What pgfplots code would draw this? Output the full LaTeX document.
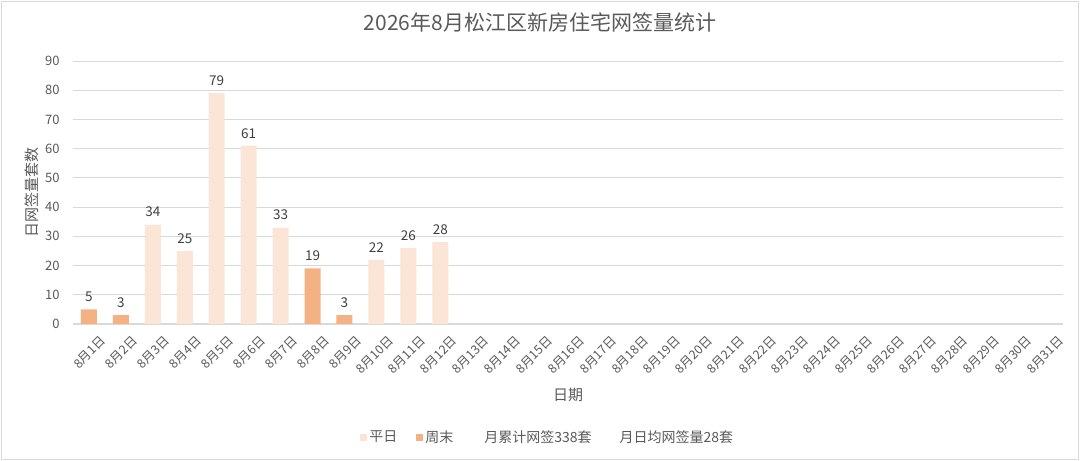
\documentclass[border=0pt]{standalone}
\usepackage{fontspec}
\setmainfont{Noto Sans CJK SC}
\usepackage{pgfplots}
\pgfplotsset{compat=1.18}
\definecolor{weekday}{HTML}{FBE5D6}
\definecolor{weekend}{HTML}{F4B183}
\definecolor{gridc}{HTML}{D9D9D9}
\definecolor{txt}{HTML}{595959}
\definecolor{lbl}{HTML}{404040}
\begin{document}
\begin{tikzpicture}[x=1bp,y=1bp]
\useasboundingbox (0,0) rectangle (1080,461);
\draw[gridc, line width=1.5bp] (1.5,1.5) rectangle (1078.5,459.5);
\begin{axis}[
  at={(73bp,137bp)}, anchor=south west,
  scale only axis, width=990bp, height=263bp,
  xmin=-0.5, xmax=30.5, ymin=0, ymax=90,
  ytick={0,10,...,90},
  xtick={0,...,30},
  xticklabels={8月1日,8月2日,8月3日,8月4日,8月5日,8月6日,8月7日,8月8日,8月9日,8月10日,8月11日,8月12日,8月13日,8月14日,8月15日,8月16日,8月17日,8月18日,8月19日,8月20日,8月21日,8月22日,8月23日,8月24日,8月25日,8月26日,8月27日,8月28日,8月29日,8月30日,8月31日},
  /pgf/number format/assume math mode=true,
  axis x line*=bottom, axis y line*=left,
  x axis line style={gridc, line width=1bp, -},
  y axis line style={draw=none},
  ymajorgrids, grid style={gridc, line width=0.8bp},
  ytick style={draw=none},
  xtick style={draw=none},
  extra x ticks={-0.5,0.5,...,30.5},
  extra x tick labels={},
  extra x tick style={tick align=outside, major tick length=5bp, tick style={gridc, line width=0.8bp}, grid=none},
  ticklabel style={font=\fontsize{13bp}{15bp}\selectfont, text=txt},
  yticklabel style={xshift=-10bp},
  xticklabel style={font=\fontsize{12.5bp}{14bp}\selectfont, rotate=45, anchor=north east, inner sep=0pt, yshift=-12bp, xshift=3bp},
  ylabel={日网签量套数},
  ylabel style={at={(axis description cs:-0.0414,0.5)}, anchor=center, font=\fontsize{15bp}{17bp}\selectfont, text=txt},
  xlabel={日期},
  xlabel style={at={(axis description cs:0.5,-0.27)}, anchor=center, font=\fontsize{15bp}{17bp}\selectfont, text=txt},
  title={2026年8月松江区新房住宅网签量统计},
  title style={at={(axis description cs:0.4717,1.1255)}, anchor=center, font=\fontsize{21bp}{25bp}\selectfont, text=txt},
  ybar, bar width=16bp, bar shift=0pt,
  nodes near coords,
  every node near coord/.append style={font=\fontsize{13.5bp}{15bp}\selectfont, text=lbl, yshift=4bp},
  legend columns=4,
  legend style={at={(axis description cs:0.4795,-0.43)}, anchor=center, draw=none, fill=none,
    font=\fontsize{14bp}{16bp}\selectfont, text=txt,
    nodes={inner sep=2bp},
    /tikz/every even column/.append style={column sep=17bp}},
  legend image code/.code={\fill[#1] (0bp,-3.5bp) rectangle (7bp,3.5bp);},
]
\addplot[fill=weekday, draw=none] coordinates {(2,34) (3,25) (4,79) (5,61) (6,33) (9,22) (10,26) (11,28)};
\addlegendentry{平日}
\addplot[fill=weekend, draw=none] coordinates {(0,5) (1,3) (7,19) (8,3)};
\addlegendentry{周末}
\addlegendimage{empty legend}
\addlegendentry{\hspace{10bp}月累计网签338套}
\addlegendimage{empty legend}
\addlegendentry{\hspace{7bp}月日均网签量28套}
\end{axis}
\end{tikzpicture}
\end{document}
